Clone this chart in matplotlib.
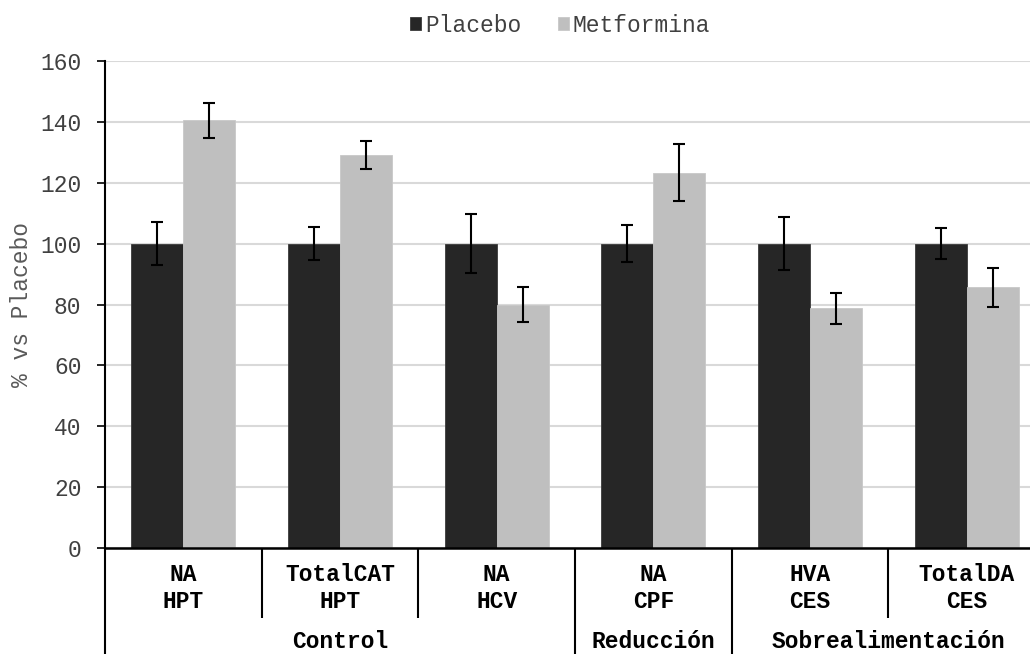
import numpy as np
import matplotlib.pyplot as plt
from matplotlib.transforms import blended_transform_factory

# Data
categories = ["NA\nHPT", "TotalCAT\nHPT", "NA\nHCV", "NA\nCPF", "HVA\nCES", "TotalDA\nCES"]
groups = ["Control", "Reducción", "Sobrealimentación"]
group_sizes = [3, 1, 2]
placebo = [100, 100, 100, 100, 100, 100]
placebo_err = [7.0, 5.3, 9.7, 6.0, 8.6, 5.0]
metformina = [140.5, 129.1, 80.0, 123.3, 78.8, 85.7]
metformina_err = [5.7, 4.7, 5.6, 9.3, 5.1, 6.4]
yticks = [0, 20, 40, 60, 80, 100, 120, 140, 160]

plt.rcParams['font.family'] = ['Liberation Mono', 'DejaVu Sans Mono']
fs = 16.5

fig = plt.figure(figsize=(10.30, 6.54), dpi=100)
# plot area extends a bit past the right edge, as in the reference
ax = fig.add_axes([105 / 1030, 106 / 654, 940 / 1030, 487 / 654])

x = np.arange(len(categories))
w = 0.332
err_kw = dict(ecolor="black", elinewidth=1.5, capsize=4, capthick=1.5)
ax.bar(x - w / 2, placebo, w, color="#262626", edgecolor="#3a3a3a", linewidth=0.6,
       yerr=placebo_err, error_kw=err_kw, label="Placebo", zorder=3)
ax.bar(x + w / 2, metformina, w, color="#bfbfbf", edgecolor="#c8c8c8", linewidth=0.6,
       yerr=metformina_err, error_kw=err_kw, label="Metformina", zorder=3)

ax.set_xlim(-0.5, len(categories) - 0.5)
ax.set_ylim(0, 160)
ax.set_yticks(yticks)
ax.set_yticklabels([str(t) for t in yticks], fontsize=fs, color="#404040")
ax.tick_params(axis="y", length=6, width=1.2, color="black", pad=11, direction="out")
ax.set_xticks([])
ax.yaxis.grid(True, color="#d9d9d9", linewidth=1.5, zorder=0)
ax.set_axisbelow(True)
for s in ["top", "right"]:
    ax.spines[s].set_visible(False)
ax.spines["left"].set_linewidth(1.5)
ax.spines["bottom"].set_linewidth(1.8)
ax.spines["bottom"].set_zorder(4)

ax.set_ylabel("% vs Placebo", fontsize=fs, color="#595959")
ax.yaxis.set_label_coords(-0.077, 0.5)

# multi-level category axis below the plot
tr = blended_transform_factory(ax.transData, ax.transAxes)
row1_bottom = -0.144
for i in range(len(categories)):
    ax.text(x[i], -0.082, categories[i], transform=tr, ha="center", va="center",
            fontsize=fs, fontweight="bold", linespacing=1.2, clip_on=False)

group_edges = np.cumsum([0] + group_sizes) - 0.5
for b in np.arange(len(categories) + 1) - 0.5:
    bottom = -0.25 if b in group_edges else row1_bottom
    ax.plot([b, b], [0, bottom], transform=tr, color="black", linewidth=1.5,
            clip_on=False, solid_capstyle="butt")
for g, name in enumerate(groups):
    cx = (group_edges[g] + group_edges[g + 1]) / 2
    ax.text(cx, -0.191, name, transform=tr, ha="center", va="center",
            fontsize=fs, fontweight="bold", clip_on=False)

fig.legend(loc="center", bbox_to_anchor=(560 / 1030, 1 - 25 / 654), ncol=2,
           frameon=False, fontsize=fs, handlelength=0.5, handleheight=0.5,
           handletextpad=0.15, columnspacing=1.6, labelcolor="#404040")

fig.savefig("out.png", dpi=100)
